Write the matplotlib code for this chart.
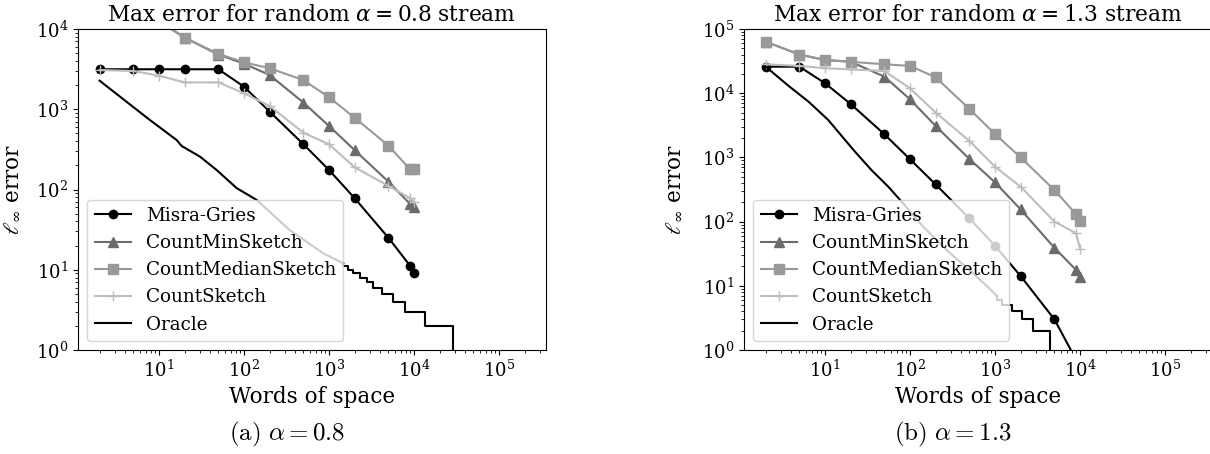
import numpy as np
import matplotlib
matplotlib.use('Agg')
import matplotlib.pyplot as plt

plt.rcParams['font.family'] = ['DejaVu Serif']
plt.rcParams['mathtext.fontset'] = 'dejavuserif'

# ---------------- data ----------------
space = [2, 5, 10, 20, 50, 100, 200, 500, 1000, 2000, 5000, 9000, 10000]

# alpha = 0.8
mg_a = [3150, 3150, 3150, 3150, 3150, 1910, 935, 366, 175, 78, 25, 11.2, 9.2]
cms_a = [50000, 22000, 12500, 7800, 4800, 3700, 2670, 1210, 618, 310, 125, 66, 61]
cmeds_a = [55000, 24000, 12800, 7800, 4900, 3850, 3240, 2310, 1410, 785, 352, 178, 178]
cs_a = [3080, 3000, 2620, 2160, 2160, 1580, 1100, 510, 366, 189, 111, 78, 70]
oracle_a_x = [2, 7.8, 16.1, 18.5, 30.3, 47.6, 82, 141, 347, 860, 1470]
oracle_a_y = [2270, 735, 414, 348, 257, 175, 104, 74, 31, 16, 12]
oracle_a_step_x = [1470, 1690, 1930, 2320, 2770, 3320, 4170, 5720, 7830, 13500, 28500, 28500]
oracle_a_step_y = [12, 11, 10, 9, 8, 7, 6, 5, 4, 3, 2, 0.3]

# alpha = 1.3
mg_b = [25900, 25900, 14300, 6800, 2290, 935, 380, 112, 42, 14.2, 3.0, 0.7, 0.55]
cms_b = [63500, 40000, 32900, 30900, 18100, 8040, 3090, 944, 408, 155, 39, 17.6, 13.8]
cmeds_b = [63500, 40000, 32900, 30900, 28200, 26600, 17700, 5670, 2310, 1000, 310, 130, 103]
cs_b = [28200, 26600, 24500, 23500, 22200, 11900, 5000, 1800, 716, 350, 100, 66, 38]
oracle_b_x = [2, 3.7, 6.4, 10.9, 17.2, 22.5, 35.4, 55.5, 79.8, 137, 283, 580, 830, 1050]
oracle_b_y = [26000, 13100, 7380, 3830, 1870, 1230, 630, 350, 204, 88.5, 34, 14.7, 9.5, 7]
oracle_b_step_x = [1050, 1200, 1570, 2060, 2770, 4440, 4440]
oracle_b_step_y = [7, 6, 5, 4, 3, 2, 0.3]

titles = [r"Max error for random $\alpha = 0.8$ stream",
          r"Max error for random $\alpha = 1.3$ stream"]
captions = [r"$\mathrm{(a)}\ \alpha = 0.8$", r"$\mathrm{(b)}\ \alpha = 1.3$"]
labels = ["Misra-Gries", "CountMinSketch", "CountMedianSketch", "CountSketch", "Oracle"]

panels = [
    dict(mg=mg_a, cms=cms_a, cmeds=cmeds_a, cs=cs_a, ox=oracle_a_x, oy=oracle_a_y,
         osx=oracle_a_step_x, osy=oracle_a_step_y, ylim=(1, 1e4)),
    dict(mg=mg_b, cms=cms_b, cmeds=cmeds_b, cs=cs_b, ox=oracle_b_x, oy=oracle_b_y,
         osx=oracle_b_step_x, osy=oracle_b_step_y, ylim=(1, 1e5)),
]

W, H = 1210, 454
fig = plt.figure(figsize=(W / 100, H / 100), dpi=100)

ax_lefts = [78, 744]
ax_w, ax_top, ax_bot = 468, 29, 350
ylabel_x = [22, 684]
caption_x = [287, 953]

for i, p in enumerate(panels):
    ax = fig.add_axes([ax_lefts[i] / W, (H - ax_bot) / H, ax_w / W, (ax_bot - ax_top) / H])
    ax.set_xscale('log')
    ax.set_yscale('log')
    ax.plot(space, p['mg'], color='black', marker='o', ms=6, lw=1.5, label=labels[0])
    ax.plot(space, p['cms'], color='0.42', marker='^', ms=7, lw=1.5, label=labels[1])
    ax.plot(space, p['cmeds'], color='0.6', marker='s', ms=7, lw=1.5, label=labels[2])
    ax.plot(space, p['cs'], color='0.74', marker='+', ms=7, lw=1.5, label=labels[3])
    ax.plot(p['ox'], p['oy'], color='black', lw=1.5, label=labels[4])
    ax.step(p['osx'], p['osy'], where='pre', color='black', lw=1.5)
    ax.set_xlim(1.114, 3.57e5)
    ax.set_ylim(*p['ylim'])
    ax.set_title(titles[i], fontsize=15.7)
    ax.set_xlabel("Words of space", fontsize=15.5)
    ax.set_ylabel(r"$\ell_\infty$ error", fontsize=15.5)
    ax.yaxis.set_label_coords((ylabel_x[i] - ax_lefts[i]) / ax_w, 0.5)
    ax.tick_params(labelsize=13)
    ax.legend(loc='lower left', fontsize=13.2)
    fig.text(caption_x[i] / W, 1 - 434 / H, captions[i], fontsize=18,
             math_fontfamily='cm', ha='center', va='center')

fig.savefig('out.png', dpi=100)
